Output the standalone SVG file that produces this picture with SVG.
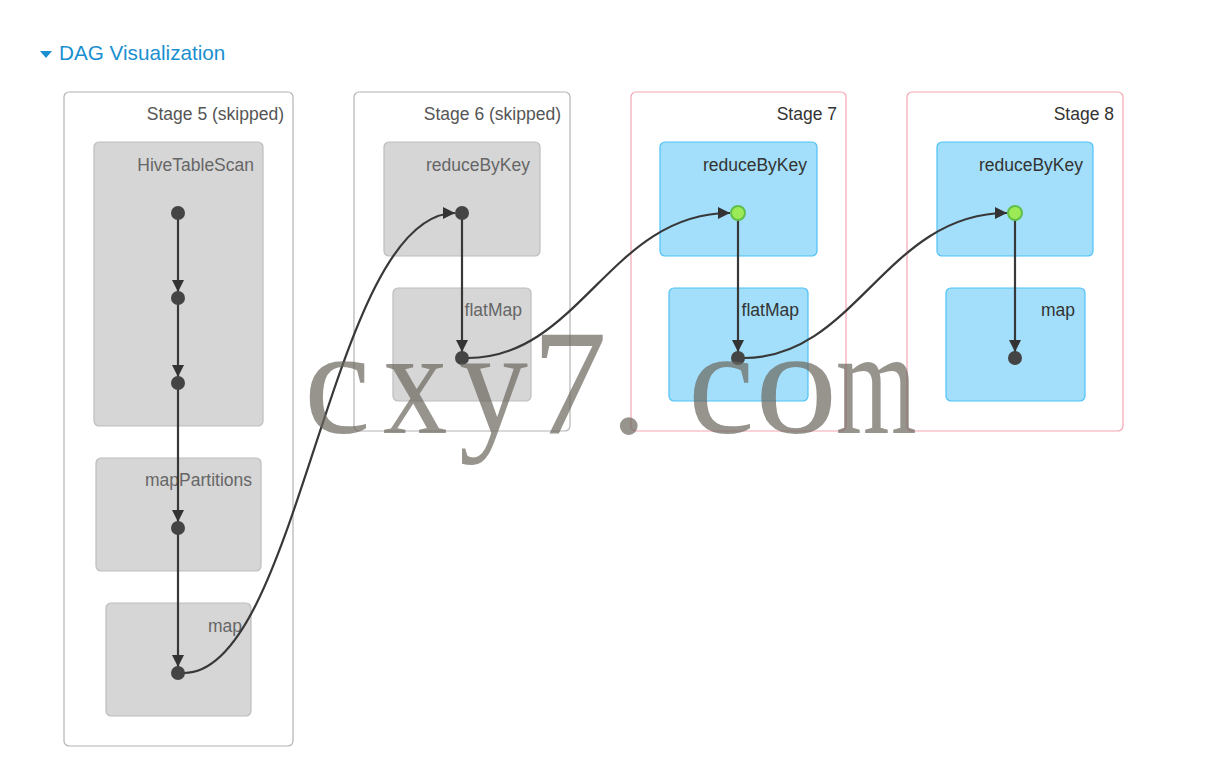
<svg xmlns="http://www.w3.org/2000/svg" width="1224" height="784" viewBox="0 0 1224 784">
<defs>
<marker id="arr" viewBox="0 0 10 10" refX="10" refY="5" markerWidth="13" markerHeight="12" markerUnits="userSpaceOnUse" orient="auto">
<path d="M0,0 L10,5 L0,10 Z" fill="#333"/>
</marker>
</defs>
<style>
.lbl{font-family:"Liberation Sans",Arial,sans-serif}
.wm{font-family:"Liberation Serif","Times New Roman",serif;font-size:150px;fill:#6b675d;fill-opacity:0.7}
.stage{fill:#fff;stroke:#b3b3b3;stroke-width:1.2}
.stage.active{stroke:#f4a6b3}
.op{fill:#d6d6d6;stroke:#bdbdbd;stroke-width:1.2}
.op.active{fill:#a3dffb;stroke:#4fc1f6}
.slabel{font-size:17.5px;fill:#555;text-anchor:end}
.slabel.active{fill:#333}
.olabel{font-size:17.5px;fill:#666;text-anchor:end}
.olabel.active{fill:#333}
.dot{fill:#444}
.cached{fill:#9bea56;stroke:#5fbf4a;stroke-width:2}
.edge{fill:none;stroke:#383838;stroke-width:2.2;marker-end:url(#arr)}
</style>
<rect width="1224" height="784" fill="#fff"/>
<g id="title">
<path d="M40,51 L52,51 L46,58 Z" fill="#1a8fd0"/>
<text class="lbl" x="59" y="60" font-size="20.7" fill="#1a8fd0">DAG Visualization</text>
</g>
<g id="stage5">
<rect class="stage" x="64" y="92" width="229" height="654" rx="5"/>
<text class="lbl slabel" x="284" y="120">Stage 5 (skipped)</text>
</g>
<g id="stage6">
<rect class="stage" x="354" y="92" width="216" height="339" rx="5"/>
<text class="lbl slabel" x="561" y="120">Stage 6 (skipped)</text>
</g>
<g id="stage7">
<rect class="stage active" x="631" y="92" width="215" height="339" rx="5"/>
<text class="lbl slabel active" x="837" y="120">Stage 7</text>
</g>
<g id="stage8">
<rect class="stage active" x="907" y="92" width="216" height="339" rx="5"/>
<text class="lbl slabel active" x="1114" y="120">Stage 8</text>
</g>
<g id="hiveTableScan">
<rect class="op" x="94" y="142" width="169" height="284" rx="5"/>
<text class="lbl olabel" x="254" y="171">HiveTableScan</text>
</g>
<g id="mapPartitions5">
<rect class="op" x="96" y="458" width="165" height="113" rx="5"/>
<text class="lbl olabel" x="252" y="486">mapPartitions</text>
</g>
<g id="map5">
<rect class="op" x="106" y="603" width="145" height="113" rx="5"/>
<text class="lbl olabel" x="242" y="632">map</text>
</g>
<g id="reduceByKey6">
<rect class="op" x="384" y="142" width="156" height="114" rx="5"/>
<text class="lbl olabel" x="530" y="171">reduceByKey</text>
</g>
<g id="flatMap6">
<rect class="op" x="393" y="288" width="138" height="113" rx="5"/>
<text class="lbl olabel" x="522" y="316">flatMap</text>
</g>
<g id="reduceByKey7">
<rect class="op active" x="660" y="142" width="157" height="114" rx="5"/>
<text class="lbl olabel active" x="807" y="171">reduceByKey</text>
</g>
<g id="flatMap7">
<rect class="op active" x="669" y="288" width="139" height="113" rx="5"/>
<text class="lbl olabel active" x="799" y="316">flatMap</text>
</g>
<g id="reduceByKey8">
<rect class="op active" x="937" y="142" width="156" height="114" rx="5"/>
<text class="lbl olabel active" x="1083" y="171">reduceByKey</text>
</g>
<g id="map8">
<rect class="op active" x="946" y="288" width="139" height="113" rx="5"/>
<text class="lbl olabel active" x="1075" y="316">map</text>
</g>
<g id="connectors">
<path class="edge" d="M178,213 L178,292"/>
<path class="edge" d="M178,298 L178,377"/>
<path class="edge" d="M178,383 L178,522"/>
<path class="edge" d="M178,528 L178,667"/>
<path class="edge" d="M184,673 C300,673 330,213 455,213"/>
<path class="edge" d="M462,213 L462,352"/>
<path class="edge" d="M468,358 C580,358 610,213 730,213"/>
<path class="edge" d="M738,213 L738,352"/>
<path class="edge" d="M744,358 C856,358 886,213 1007,213"/>
<path class="edge" d="M1015,213 L1015,352"/>
</g>
<g id="nodes">
<circle class="dot" cx="178" cy="213" r="7"/>
<circle class="dot" cx="178" cy="298" r="7"/>
<circle class="dot" cx="178" cy="383" r="7"/>
<circle class="dot" cx="178" cy="528" r="7"/>
<circle class="dot" cx="178" cy="673" r="7"/>
<circle class="dot" cx="462" cy="213" r="7"/>
<circle class="dot" cx="462" cy="358" r="7"/>
<circle class="cached" cx="738" cy="213" r="7"/>
<circle class="dot" cx="738" cy="358" r="7"/>
<circle class="cached" cx="1015" cy="213" r="7"/>
<circle class="dot" cx="1015" cy="358" r="7"/>
</g>
<g id="watermark">
<text class="wm" transform="translate(304,433)">c</text>
<text class="wm" transform="translate(383,433) scale(0.86,1)">x</text>
<text class="wm" transform="translate(459,433) scale(0.92,1)">y</text>
<text class="wm" transform="translate(532,433)">7</text>
<text class="wm" transform="translate(610,433)">.</text>
<text class="wm" transform="translate(688,433)">c</text>
<text class="wm" transform="translate(755,433) scale(1.1,1)">o</text>
<text class="wm" transform="translate(836,433) scale(0.69,1)">m</text>
</g>
</svg>
